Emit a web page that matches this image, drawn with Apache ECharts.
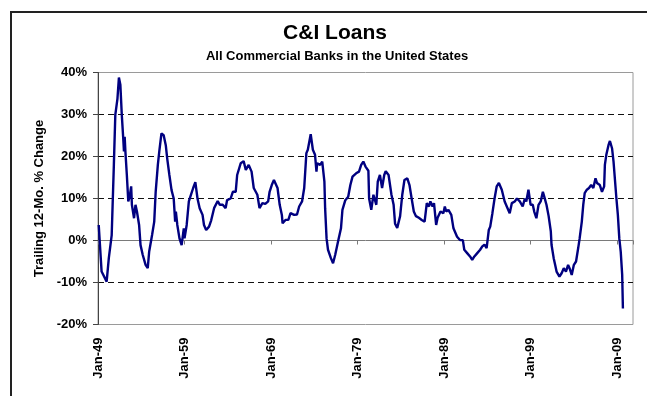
<!DOCTYPE html>
<html>
<head>
<meta charset="utf-8">
<script src="https://cdn.jsdelivr.net/npm/echarts@6/dist/echarts.min.js"></script>
<style>
html,body{margin:0;padding:0;background:#fff;}
#c{width:647px;height:396px;}
</style>
</head>
<body>
<div id="c"></div>
<script>
// months since Jan-1949
var months = [1,5,12,15,19,22,24,27,29,31,33,35,36,37,38,40,42,44,46,47,50,52,54,57,59,62,66,69,71,75,78,80,83,85,88,91,94,96,99,102,105,107,108,110,113,116,119,120,123,126,129,132,135,138,141,145,147,150,154,157,161,166,169,173,177,179,184,187,191,193,198,202,205,209,213,216,221,224,228,232,236,238,241,244,249,252,255,256,260,264,267,272,276,279,283,286,289,291,295,298,301,303,304,308,311,314,315,317,319,323,326,329,333,337,339,343,347,350,353,358,362,365,368,371,375,376,379,382,386,388,391,394,397,399,403,407,410,412,415,419,422,425,429,432,435,438,441,445,449,453,456,459,461,464,466,469,471,475,479,481,483,486,490,493,495,498,502,506,508,512,516,519,522,526,530,533,536,539,542,544,547,550,553,556,560,564,568,571,574,578,581,585,589,592,594,597,600,603,605,608,611,614,617,619,622,625,628,629,632,634,636,640,643,646,649,652,654,657,660,663,666,668,671,673,675,678,681,684,687,690,692,696,699,702,703,705,708,710,713,715,717,719,721,723,725,727,728];
// trailing 12-month % change
var pctChange = [3.7,-7.4,-9.8,-4.2,1.3,18,29.9,33.8,38.8,37.1,29.9,24.3,21.2,24.7,21.2,15.6,9.3,10.5,12.9,8.5,5.3,8.5,6.9,3.7,-1.1,-3.4,-5.8,-6.6,-2.6,1.3,4.5,11.6,18,21.2,25.5,25.1,22.7,19.5,15.6,12,10,4.5,6.9,3.7,0.5,-1.1,2.9,0.5,3.7,9.3,10.9,12.5,13.9,10,7.7,6.1,3.7,2.5,3.3,4.8,7.7,9.4,8.5,8.5,7.7,9.6,10,11.6,11.6,15.6,18.4,18.9,16.8,18,16.4,12.5,10.9,7.7,8.9,8.7,9.3,11.6,13.2,14.4,12.5,8.5,6.1,4.1,4.9,4.9,6.5,6.1,6.2,8.1,9.3,12.5,20.8,21.6,25.3,21.6,20.4,16.4,18.4,18,18.8,14,7.7,0.5,-2.2,-4.2,-5.4,-3.4,-0.2,2.9,7.3,9.6,10.4,13.2,15.2,16,16.4,18,18.8,17.6,16.6,10,7.3,10.9,8.5,14,15.6,12.5,15.6,16.5,15.6,10.9,8.5,4,3,5.8,10.9,14.4,14.8,13.2,10,6.9,5.8,5.4,4.9,4.5,8.9,8.1,9.3,8.1,8.9,3.7,5.4,6.9,6.5,8.1,6.9,7.3,6.1,2.9,2.5,0.9,0.1,0.1,-2.2,-3,-3.8,-4.6,-3.8,-3,-2.2,-1.4,-1,-1.8,2.5,3.3,6.5,10,12.9,13.7,12.1,9.3,7.7,6.5,8.9,9.3,10,9.3,8.1,10,9.3,12.1,8.5,8.5,6.9,5.3,8.5,9.3,11.6,10.4,8.5,5.8,2.2,-1,-4.2,-5.8,-7.4,-8.6,-7.8,-6.6,-7.4,-5.8,-6.6,-8.2,-5.8,-5,-1.8,0.5,4.5,8.5,11.3,12.1,12.5,13.2,12.5,14.8,13.7,13.2,11.6,12.9,18,20.4,22.7,23.7,21.9,18.8,19.2,10,6.1,0.5,-2.7,-8.2,-16.2];
var xTickLabels = ['Jan-49','Jan-59','Jan-69','Jan-79','Jan-89','Jan-99','Jan-09'];
var yTicks = [-20,-10,0,10,20,30,40];

var FONT = 'Liberation Sans, Arial, sans-serif';
var seriesData = months.map(function(m,i){return [m, pctChange[i]];});

var chart = echarts.init(document.getElementById('c'), null, {renderer:'canvas'});
chart.setOption({
  animation:false,
  backgroundColor:'#fff',
  graphic:[
    {type:'polyline', shape:{points:[[11,400],[11,12],[660,12]]}, style:{stroke:'#222', lineWidth:2, fill:null}, silent:true},
    {type:'text', x:335, y:33, style:{text:'C&I Loans', font:'bold 21px '+FONT, fill:'#000', textAlign:'center', textVerticalAlign:'middle'}},
    {type:'text', x:337, y:56, style:{text:'All Commercial Banks in the United States', font:'bold 13px '+FONT, fill:'#000', textAlign:'center', textVerticalAlign:'middle'}}
  ],
  grid:{left:98, right:14, top:72.5, bottom:71.5, show:true, borderColor:'#9a9a9a', borderWidth:1, backgroundColor:'transparent', containLabel:false, outerBoundsMode:'none'},
  xAxis:[
    {type:'value', min:0, max:742, interval:120, position:'bottom',
     axisLine:{show:false, onZero:false}, axisTick:{show:false}, splitLine:{show:false},
     axisLabel:{rotate:90, margin:13, color:'#000', fontFamily:FONT, fontWeight:'bold', fontSize:13,
       formatter:function(v){ if (v % 120 !== 0) return ''; return xTickLabels[v/120] || ''; }}},
    {type:'value', min:0, max:742, interval:120, position:'bottom',
     axisLine:{show:true, onZero:true, lineStyle:{color:'#7a7a7a', width:1}},
     axisTick:{show:true, length:4, lineStyle:{color:'#7a7a7a'}},
     axisLabel:{show:false}, splitLine:{show:false}}
  ],
  yAxis:{type:'value', min:yTicks[0], max:yTicks[yTicks.length-1], interval:10,
    name:'Trailing 12-Mo. % Change', nameLocation:'middle', nameGap:52,
    nameTextStyle:{color:'#000', fontFamily:FONT, fontWeight:'bold', fontSize:13},
    axisLine:{show:true, lineStyle:{color:'#444', width:1}},
    axisTick:{show:true, length:5, lineStyle:{color:'#444'}},
    axisLabel:{margin:11, color:'#000', fontFamily:FONT, fontWeight:'bold', fontSize:13,
      formatter:function(v){return v+'%';}},
    splitLine:{show:true, lineStyle:{type:[6,4], width:1,
      color:['rgba(0,0,0,0)','#111','rgba(0,0,0,0)','#111','#111','#111','rgba(0,0,0,0)']}}
  },
  series:[{type:'line', xAxisIndex:0, data:seriesData, showSymbol:false, symbol:'none',
    lineStyle:{color:'#000080', width:2.4}, z:5}]
});
</script>
</body>
</html>
